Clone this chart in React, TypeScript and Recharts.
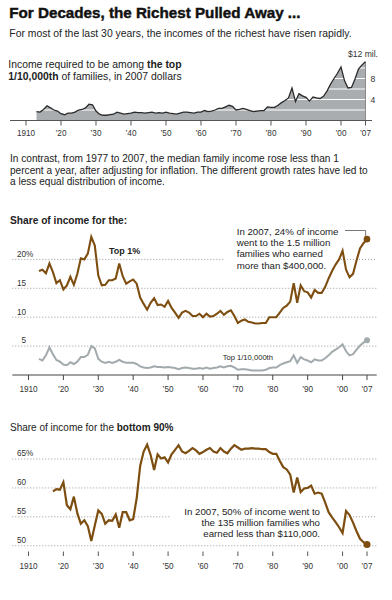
import React from 'react';
import { ComposedChart, Area, Line, XAxis, YAxis, ReferenceLine, ReferenceDot } from 'recharts';

const FONT = '"Liberation Sans", Arial, Helvetica, sans-serif';
const BROWN = '#7d4e10';
const GRAY_LINE = '#a3aaad';
const AREA_FILL = '#a9adb0';
const TEXT = '#222';
const GRID = '#9a9a9a';

const TICK_YEARS = [1910, 1920, 1930, 1940, 1950, 1960, 1970, 1980, 1990, 2000, 2007];
const tickLabel = (y: number) => (y === 1910 ? '1910' : '\u2019' + String(y).slice(2));

// Income threshold for the top 1/10,000th, millions of 2007 dollars
const THRESHOLD_START = 1913;
const thresholdMillions = [
  1.7, 1.6, 2.1, 2.8, 2.4, 2.0, 1.8,
  1.3, 1.1, 1.4, 1.4, 1.6, 2.0, 2.1, 2.4, 3.1, 3.0,
  1.8, 1.2, 1.0, 1.0, 1.1, 1.2, 1.6, 1.4, 1.2, 1.3,
  1.4, 1.6, 1.5, 1.5, 1.4, 1.5, 1.6, 1.4, 1.5, 1.4,
  1.6, 1.4, 1.3, 1.2, 1.4, 1.6, 1.6, 1.5, 1.4, 1.6,
  1.6, 1.9, 1.7, 1.8, 2.0, 2.3, 2.3, 2.6, 2.9, 2.7,
  2.0, 2.1, 2.3, 2.1, 1.9, 1.7, 1.8, 1.9, 1.9, 2.6,
  2.5, 2.5, 2.9, 3.4, 3.8, 4.3, 6.2, 3.6, 5.1, 4.7,
  4.4, 3.7, 4.5, 4.3, 4.2, 4.6, 5.6, 6.9, 8.0, 9.0,
  10.2, 7.6, 6.2, 6.3, 7.9, 9.8, 10.6, 11.2,
];

// Share of income, percent
const SHARE_START = 1913;
const top1Share = [
  18.0, 18.2, 17.6, 19.3, 17.8, 15.9, 16.4,
  14.8, 15.5, 17.0, 15.6, 17.5, 20.2, 20.0, 21.0, 23.9, 22.4,
  17.2, 15.5, 15.6, 16.4, 16.4, 16.7, 19.3, 17.1, 15.8, 16.2,
  16.5, 15.8, 13.4, 12.3, 11.3, 12.5, 13.3, 12.1, 12.2, 11.8,
  12.8, 11.6, 10.8, 9.9, 10.8, 11.1, 10.8, 10.2, 10.2, 10.6,
  10.0, 10.6, 10.1, 10.2, 10.6, 11.1, 10.4, 10.9, 11.2, 10.2,
  9.0, 9.4, 9.6, 9.2, 9.1, 8.9, 8.9, 9.0, 9.0, 10.0,
  10.0, 10.0, 10.8, 11.6, 12.0, 12.7, 15.9, 12.5, 15.5, 14.5,
  14.3, 13.4, 14.7, 14.2, 14.2, 15.2, 16.7, 18.0, 19.1, 20.0,
  21.5, 18.2, 16.9, 17.5, 19.8, 21.9, 22.8, 23.5,
];
const top001Share = [
  2.8, 2.5, 3.4, 4.8, 3.6, 2.6, 2.3,
  1.8, 1.7, 2.2, 1.9, 2.3, 3.1, 3.1, 3.5, 5.0, 4.6,
  2.8, 2.3, 2.1, 2.3, 2.1, 2.3, 2.6, 2.3, 2.1, 2.1,
  2.1, 1.9, 1.5, 1.3, 1.2, 1.3, 1.5, 1.4, 1.4, 1.3,
  1.4, 1.3, 1.2, 1.0, 1.2, 1.3, 1.2, 1.1, 1.1, 1.2,
  1.1, 1.3, 1.1, 1.2, 1.3, 1.5, 1.3, 1.5, 1.6, 1.3,
  0.9, 1.0, 1.0, 0.9, 0.8, 0.8, 0.8, 0.8, 0.9, 1.2,
  1.3, 1.3, 1.7, 2.0, 2.2, 2.4, 3.4, 2.1, 3.1, 2.7,
  2.5, 2.2, 2.7, 2.5, 2.5, 2.9, 3.4, 4.0, 4.4, 4.8,
  5.3, 4.1, 3.4, 3.6, 4.4, 5.1, 5.6, 6.0,
];

const BOTTOM_START = 1917;
const bottom90Share = [
  59.4, 59.8, 59.7,
  61.0, 57.0, 56.3, 58.5, 55.6, 53.8, 54.4, 53.4, 50.8, 53.5,
  56.1, 55.5, 53.8, 54.4, 54.3, 55.4, 53.1, 55.8, 55.8, 54.4,
  54.6, 58.2, 63.8, 66.3, 67.5, 65.7, 63.1, 65.8, 65.1, 65.3,
  64.4, 65.8, 66.6, 67.4, 66.3, 66.0, 66.4, 66.9, 66.5, 65.9,
  66.2, 66.6, 66.9, 66.3, 66.1, 66.9, 66.3, 66.0, 66.8, 67.4,
  67.0, 66.6, 66.8, 66.8, 66.9, 66.8, 66.8, 66.7, 66.7, 66.2,
  65.9, 65.9, 64.7, 63.6, 63.2, 62.3, 59.2, 61.8, 59.3, 59.9,
  60.0, 60.4, 59.0, 59.2, 59.0, 57.5, 55.8, 54.9, 54.1, 53.2,
  52.2, 56.0, 55.3, 54.0, 52.5, 51.2, 50.6, 50.2,
];

const SHARE_GRID = [5, 10, 15];
const BOTTOM_GRID = [50, 60, 65];
const AREA_GRID = [2, 4, 6, 8, 10];

const thresholdRows = thresholdMillions.map((v, i) => ({ year: THRESHOLD_START + i, v }));
const shareRows = top1Share.map((v, i) => ({ year: SHARE_START + i, top1: v, top001: top001Share[i] }));
const bottomRows = bottom90Share.map((v, i) => ({ year: BOTTOM_START + i, v }));

const last = (a: number[]) => a[a.length - 1];

const DOM1: [number, number] = [1905.43, 2008.86];
const DOM2: [number, number] = [1905.36, 2009.78];

const tickStyle = { fill: '#333', fontSize: 8.2, fontFamily: FONT };

const gridLabel = (num: string, pct: boolean) => (props: any) => {
  const vb = props.viewBox || {};
  const x = (vb.x ?? 0) + 13.7;
  const y = (vb.y ?? 0) - 2.7;
  return (
    <g>
      <text x={x} y={y} textAnchor="end" fontSize={8.2} fill="#333" fontFamily={FONT}>{num}</text>
      {pct && <text x={x} y={y} fontSize={8.2} fill="#333" fontFamily={FONT}>%</text>}
    </g>
  );
};

const rightLabel = (txt: string, big: boolean) => (props: any) => {
  const vb = props.viewBox || {};
  const right = (vb.x ?? 0) + (vb.width ?? 0);
  if (big) {
    return <text x={right + 6} y={(vb.y ?? 0) - 0.5} textAnchor="end" fontSize={8.6} fill="#333" fontFamily={FONT}>{txt}</text>;
  }
  return <text x={right - 1.5} y={(vb.y ?? 0) + 3} fontSize={8.6} fill="#333" fontFamily={FONT}>{txt}</text>;
};

const abs: React.CSSProperties = { position: 'absolute', left: 0, top: 0 };

export default function App() {
  return (
    <div style={{ position: 'absolute', left: 0, top: 0, width: 392, height: 600, background: '#fff', fontFamily: FONT }}>
      {/* Chart 1: threshold area */}
      <div style={abs}>
        <ComposedChart width={392} height={600} data={thresholdRows} margin={{ top: 57.5, right: 20, bottom: 459.5, left: 10 }}>
          <XAxis type="number" dataKey="year" domain={DOM1} ticks={TICK_YEARS} interval={0} tickFormatter={tickLabel}
            height={20} tickSize={5} tickMargin={4.5} stroke="#555" tick={tickStyle} />
          <YAxis hide domain={[0, 12]} />
          <Area dataKey="v" type="linear" fill={AREA_FILL} fillOpacity={1} stroke="none" isAnimationActive={false} />
          {AREA_GRID.map((g) => (
            <ReferenceLine key={g} y={g} stroke="#ffffff" strokeWidth={1}
              label={g === 4 || g === 8 ? rightLabel(String(g), false) : undefined} />
          ))}
          <ReferenceLine y={12} stroke="none" label={rightLabel('$12 mil.', true)} />
          <ReferenceLine segment={[{ x: 2007, y: 0 }, { x: 2007, y: last(thresholdMillions) }]} stroke="#777" strokeWidth={0.8} ifOverflow="visible" />
          <Line dataKey="v" type="linear" stroke="#2a2a2a" strokeWidth={1.3} dot={false} isAnimationActive={false} />
        </ComposedChart>
      </div>

      {/* Chart 2: top shares */}
      <div style={abs}>
        <ComposedChart width={392} height={600} data={shareRows} margin={{ top: 230.5, right: 15.3, bottom: 205, left: 12.3 }}>
          <XAxis type="number" dataKey="year" domain={DOM2} ticks={TICK_YEARS} interval={0} tickFormatter={tickLabel}
            height={20} tickSize={5} tickMargin={5.8} stroke="#444" axisLine={{ stroke: '#444', strokeWidth: 1.2 }} tick={tickStyle} />
          <YAxis hide domain={[0, 25]} />
          {SHARE_GRID.map((g) => (
            <ReferenceLine key={g} y={g} stroke={GRID} strokeDasharray="1 2" label={gridLabel(String(g), false)} />
          ))}
          <ReferenceLine segment={[{ x: DOM2[0], y: 20 }, { x: 1966.3, y: 20 }]} stroke={GRID} strokeDasharray="1 2" ifOverflow="visible" label={gridLabel('20', true)} />
          <ReferenceLine segment={[{ x: 1998.7, y: 20 }, { x: DOM2[1], y: 20 }]} stroke={GRID} strokeDasharray="1 2" ifOverflow="visible" />
          <ReferenceLine segment={[{ x: 2000.7, y: 25 }, { x: 2006.6, y: 25 }]} stroke="#555" strokeWidth={0.8} ifOverflow="visible" />
          <ReferenceLine segment={[{ x: 2006.6, y: 25 }, { x: 2006.6, y: 24.0 }]} stroke="#555" strokeWidth={0.8} ifOverflow="visible" />
          <Line dataKey="top001" type="linear" stroke={GRAY_LINE} strokeWidth={2} dot={false} isAnimationActive={false} />
          <Line dataKey="top1" type="linear" stroke={BROWN} strokeWidth={2.1} dot={false} isAnimationActive={false} />
          <ReferenceDot x={2007} y={last(top001Share)} r={3} fill={GRAY_LINE} stroke="none" ifOverflow="visible" />
          <ReferenceDot x={2007} y={last(top1Share)} r={3.3} fill={BROWN} stroke="none" ifOverflow="visible" />
        </ComposedChart>
      </div>

      {/* Chart 3: bottom 90% */}
      <div style={abs}>
        <ComposedChart width={392} height={600} data={bottomRows} margin={{ top: 441.7, right: 15.3, bottom: 28.5, left: 12.3 }}>
          <XAxis type="number" dataKey="year" domain={DOM2} ticks={TICK_YEARS} interval={0} tickFormatter={tickLabel}
            height={20} tickSize={4.5} tickMargin={6.8} axisLine={false} tickLine={{ stroke: '#555' }} tick={tickStyle} />
          <YAxis hide domain={[49, 68]} />
          {BOTTOM_GRID.map((g) => (
            <ReferenceLine key={g} y={g} stroke={GRID} strokeDasharray="1 2" label={gridLabel(String(g), g === 65)} />
          ))}
          <ReferenceLine segment={[{ x: DOM2[0], y: 55 }, { x: 1950.5, y: 55 }]} stroke={GRID} strokeDasharray="1 2" ifOverflow="visible" label={gridLabel('55', false)} />
          <ReferenceLine segment={[{ x: 2001.3, y: 55 }, { x: DOM2[1], y: 55 }]} stroke={GRID} strokeDasharray="1 2" ifOverflow="visible" />
          <Line dataKey="v" type="linear" stroke={BROWN} strokeWidth={2.2} dot={false} isAnimationActive={false} />
          <ReferenceDot x={2007} y={last(bottom90Share)} r={3.5} fill={BROWN} stroke="none" ifOverflow="visible" />
        </ComposedChart>
      </div>

      {/* Text overlay */}
      <svg width={392} height={600} style={{ ...abs, pointerEvents: 'none' }} fontFamily={FONT}>
        <text x={9.3} y={18.3} fontSize={15.2} fontWeight={700} fill="#111" stroke="#111" strokeWidth={0.45}>For Decades, the Richest Pulled Away ...</text>
        <text x={9.3} y={37.3} fontSize={10.4} fill={TEXT}>For most of the last 30 years, the incomes of the richest have risen rapidly.</text>

        <text x={8.3} y={67.7} fontSize={10.4} fill={TEXT}>Income required to be among <tspan fontWeight={700}>the top</tspan></text>
        <text x={8.3} y={80.2} fontSize={10.4} fill={TEXT}><tspan fontWeight={700}>1/10,000th</tspan> of families, in 2007 dollars</text>

        <text x={10} y={161.9} fontSize={10.1} fill={TEXT}>In contrast, from 1977 to 2007, the median family income rose less than 1</text>
        <text x={10} y={173.6} fontSize={10.1} fill={TEXT}>percent a year, after adjusting for inflation. The different growth rates have led to</text>
        <text x={10} y={185.3} fontSize={10.1} fill={TEXT}>a less equal distribution of income.</text>

        <text x={10} y={223.7} fontSize={10.2} fontWeight={700} fill={TEXT}>Share of income for the:</text>
        <text x={236.7} y={235.2} fontSize={9.7} fill={TEXT}>In 2007, 24% of income</text>
        <text x={236.7} y={246.3} fontSize={9.7} fill={TEXT}>went to the 1.5 million</text>
        <text x={236.7} y={257.4} fontSize={9.7} fill={TEXT}>families who earned</text>
        <text x={236.7} y={268.5} fontSize={9.7} fill={TEXT}>more than $400,000.</text>
        <text x={109} y={254.3} fontSize={9} fontWeight={700} fill={TEXT}>Top 1%</text>
        <text x={222.7} y={360} fontSize={7.6} fill={TEXT}>Top 1/10,000th</text>

        <text x={10} y={430.9} fontSize={10} fill={TEXT}>Share of income for the <tspan fontWeight={700}>bottom 90%</tspan></text>
        <text x={320} y={514.5} fontSize={9.7} fill={TEXT} textAnchor="end">In 2007, 50% of income went to</text>
        <text x={320} y={525.7} fontSize={9.7} fill={TEXT} textAnchor="end">the 135 million families who</text>
        <text x={320} y={536.9} fontSize={9.7} fill={TEXT} textAnchor="end">earned less than $110,000.</text>
      </svg>
    </div>
  );
}
